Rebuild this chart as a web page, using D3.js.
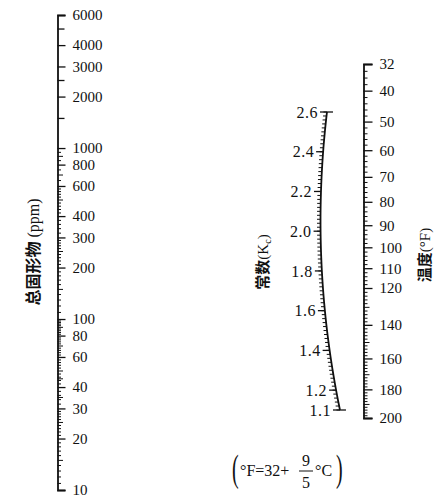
<!DOCTYPE html>
<html>
<head>
<meta charset="utf-8">
<script src="https://cdn.jsdelivr.net/npm/d3@7"></script>
<style>
  body { margin: 0; background: #fff; }
  text { font-family: "Liberation Serif", "DejaVu Serif", serif; fill: #111; }
  .cjk { font-family: "Noto Sans CJK SC", sans-serif; font-weight: bold; }
</style>
</head>
<body>
<div id="chart"></div>
<script>
// total solids scale (ppm), log
const ppmLabels = [10, 20, 30, 40, 60, 80, 100, 200, 300, 400, 600, 800, 1000, 2000, 3000, 4000, 6000];
const ppmLongTicks = [1500, 2500, 5000];
const ppmMidTicks = [15, 25, 35, 45, 50, 70, 90, 150, 250, 500, 700, 900];
const ppmMinor = [].concat(
  d3.range(11, 30, 1),
  d3.range(30, 100, 2),
  d3.range(100, 300, 10),
  d3.range(300, 600, 20),
  d3.range(600, 1000, 50)
);

// constant Kc scale
const kcLabels = [1.1, 1.2, 1.4, 1.6, 1.8, 2.0, 2.2, 2.4, 2.6];

// temperature scale (°F)
const tempLabels = [32, 40, 50, 60, 70, 80, 90, 100, 110, 120, 140, 160, 180, 200];

const width = 440, height = 501;
const serif = "'Liberation Serif', 'DejaVu Serif', serif";

const svg = d3.select("#chart")
  .append("svg")
  .attr("width", width)
  .attr("height", height);

svg.append("rect").attr("width", width).attr("height", height).attr("fill", "#fff");

// ---------- left axis ----------
const ppmScale = d3.scaleLog().domain([10, 6000]).range([490, 15]);
const leftX = 57.5;

function tickLayer(scale, x, values, size) {
  const g = svg.append("g")
    .attr("transform", `translate(${x},0)`)
    .call(d3.axisRight(scale).tickValues(values).tickSize(size).tickSizeOuter(0).tickFormat(""));
  g.select(".domain").remove();
  g.selectAll(".tick line").attr("stroke", "#111").attr("stroke-width", 1);
  return g;
}

tickLayer(ppmScale, leftX, ppmMinor.filter(v => !ppmMidTicks.includes(v) && !ppmLabels.includes(v)), 3.5);
tickLayer(ppmScale, leftX, ppmMidTicks, 5.5);
tickLayer(ppmScale, leftX, ppmLongTicks, 7).selectAll(".tick line").attr("stroke-width", 1.3);

const leftMajor = svg.append("g")
  .attr("transform", `translate(${leftX},0)`)
  .call(d3.axisRight(ppmScale).tickValues(ppmLabels).tickSize(8).tickSizeOuter(8).tickPadding(7)
    .tickFormat(d3.format("d")));

leftMajor.selectAll(".tick line").attr("stroke", "#111").attr("stroke-width", 1.3);
leftMajor.select(".domain").attr("stroke", "#111").attr("stroke-width", 1.8);
leftMajor.selectAll("text").style("font-size", "15px").style("font-family", serif).attr("fill", "#111");

const ppmTitle = svg.append("text")
  .attr("class", "cjk")
  .attr("transform", "translate(39,252) rotate(-90)")
  .attr("text-anchor", "middle")
  .style("font-size", "16px")
  .text("总固形物");
ppmTitle.append("tspan")
  .style("font-family", serif)
  .style("font-weight", "normal")
  .text(" (ppm)");

// ---------- middle curved axis ----------
const kcScale = d3.scaleLinear().domain([1.1, 2.6]).range([410, 112]);
// horizontal position of the curved line for a given Kc
const kcX = v => {
  const d = v - 1.9;
  return 321 - 6.5 * d + 21.5 * d * d;
};

const mid = svg.append("g");
const curveVals = d3.range(0, 101).map(i => 1.1 + i * 0.015);
mid.append("path")
  .attr("d", d3.line().x(v => kcX(v)).y(v => kcScale(v))(curveVals))
  .attr("fill", "none")
  .attr("stroke", "#111")
  .attr("stroke-width", 1.8);

const kcMinor = kcScale.ticks(75);
mid.selectAll(".kcminor")
  .data(kcMinor)
  .enter()
  .append("line")
  .attr("x1", d => kcX(d) - 3.5)
  .attr("x2", d => kcX(d))
  .attr("y1", d => kcScale(d))
  .attr("y2", d => kcScale(d))
  .attr("stroke", "#111")
  .attr("stroke-width", 1);

mid.selectAll(".kcmajor")
  .data(kcLabels)
  .enter()
  .append("line")
  .attr("x1", d => kcX(d) - 7)
  .attr("x2", d => (d === 1.1 || d === 2.6) ? kcX(d) + 6 : kcX(d))
  .attr("y1", d => kcScale(d))
  .attr("y2", d => kcScale(d))
  .attr("stroke", "#111")
  .attr("stroke-width", 1.3);

mid.selectAll(".kclabel")
  .data(kcLabels)
  .enter()
  .append("text")
  .attr("x", d => kcX(d) - 9)
  .attr("y", d => kcScale(d))
  .attr("dy", "0.35em")
  .attr("text-anchor", "end")
  .style("font-family", serif)
  .style("font-size", "16px")
  .style("letter-spacing", "0.5px")
  .text(d3.format(".1f"));

const kcTitle = svg.append("text")
  .attr("class", "cjk")
  .attr("transform", "translate(268,262) rotate(-90)")
  .attr("text-anchor", "middle")
  .style("font-size", "15px")
  .text("常数");
kcTitle.append("tspan").style("font-family", serif).style("font-weight", "normal").text("(K");
kcTitle.append("tspan").style("font-family", serif).style("font-weight", "normal")
  .style("font-size", "10px").attr("dy", "3").text("c");
kcTitle.append("tspan").style("font-family", serif).style("font-weight", "normal")
  .attr("dy", "-3").text(")");

// ---------- right axis ----------
const tempBase = d3.scaleLog().domain([32 + 80, 200 + 80]).range([64, 418]);
const tempScale = v => tempBase(v + 80);
tempScale.domain = () => [32, 200];
tempScale.range = () => tempBase.range();
tempScale.copy = () => tempScale;

const rightX = 363.5;
const tempMinor = d3.range(34, 200, 2).filter(v => !tempLabels.includes(v));
const tempMid = tempMinor.filter(v => v % 10 === 0);

tickLayer(tempScale, rightX, tempMinor.filter(v => !tempMid.includes(v)), 4);
tickLayer(tempScale, rightX, tempMid, 6);

const rightMajor = svg.append("g")
  .attr("transform", `translate(${rightX},0)`)
  .call(d3.axisRight(tempScale).tickValues(tempLabels).tickSize(9).tickSizeOuter(9).tickPadding(7)
    .tickFormat(d3.format("d")));

rightMajor.selectAll(".tick line").attr("stroke", "#111").attr("stroke-width", 1.3);
rightMajor.select(".domain").attr("stroke", "#111").attr("stroke-width", 1.8);
rightMajor.selectAll("text").style("font-size", "15px").style("font-family", serif).attr("fill", "#111");

const tTitle = svg.append("text")
  .attr("class", "cjk")
  .attr("transform", "translate(430,255) rotate(-90)")
  .attr("text-anchor", "middle")
  .style("font-size", "15px")
  .text("温度");
tTitle.append("tspan").style("font-family", serif).style("font-weight", "normal").text("(°F)");

// ---------- conversion formula ----------
const f = svg.append("g").attr("transform", "translate(232,476)");
f.append("text").attr("transform", "translate(0,5) scale(1,1.9)").style("font-size", "20px").style("font-family", serif).text("(");
f.append("text").attr("x", 8).attr("y", 0).style("font-size", "16px").style("font-family", serif).text("°F=32+");
f.append("text").attr("x", 74).attr("y", -10).attr("text-anchor", "middle").style("font-size", "16px").style("font-family", serif).text("9");
f.append("line").attr("x1", 67).attr("x2", 81).attr("y1", -5).attr("y2", -5).attr("stroke", "#111").attr("stroke-width", 1);
f.append("text").attr("x", 74).attr("y", 12).attr("text-anchor", "middle").style("font-size", "16px").style("font-family", serif).text("5");
f.append("text").attr("x", 83).attr("y", 0).style("font-size", "16px").style("font-family", serif).text("°C");
f.append("text").attr("transform", "translate(104,5) scale(1,1.9)").style("font-size", "20px").style("font-family", serif).text(")");
</script>
</body>
</html>
